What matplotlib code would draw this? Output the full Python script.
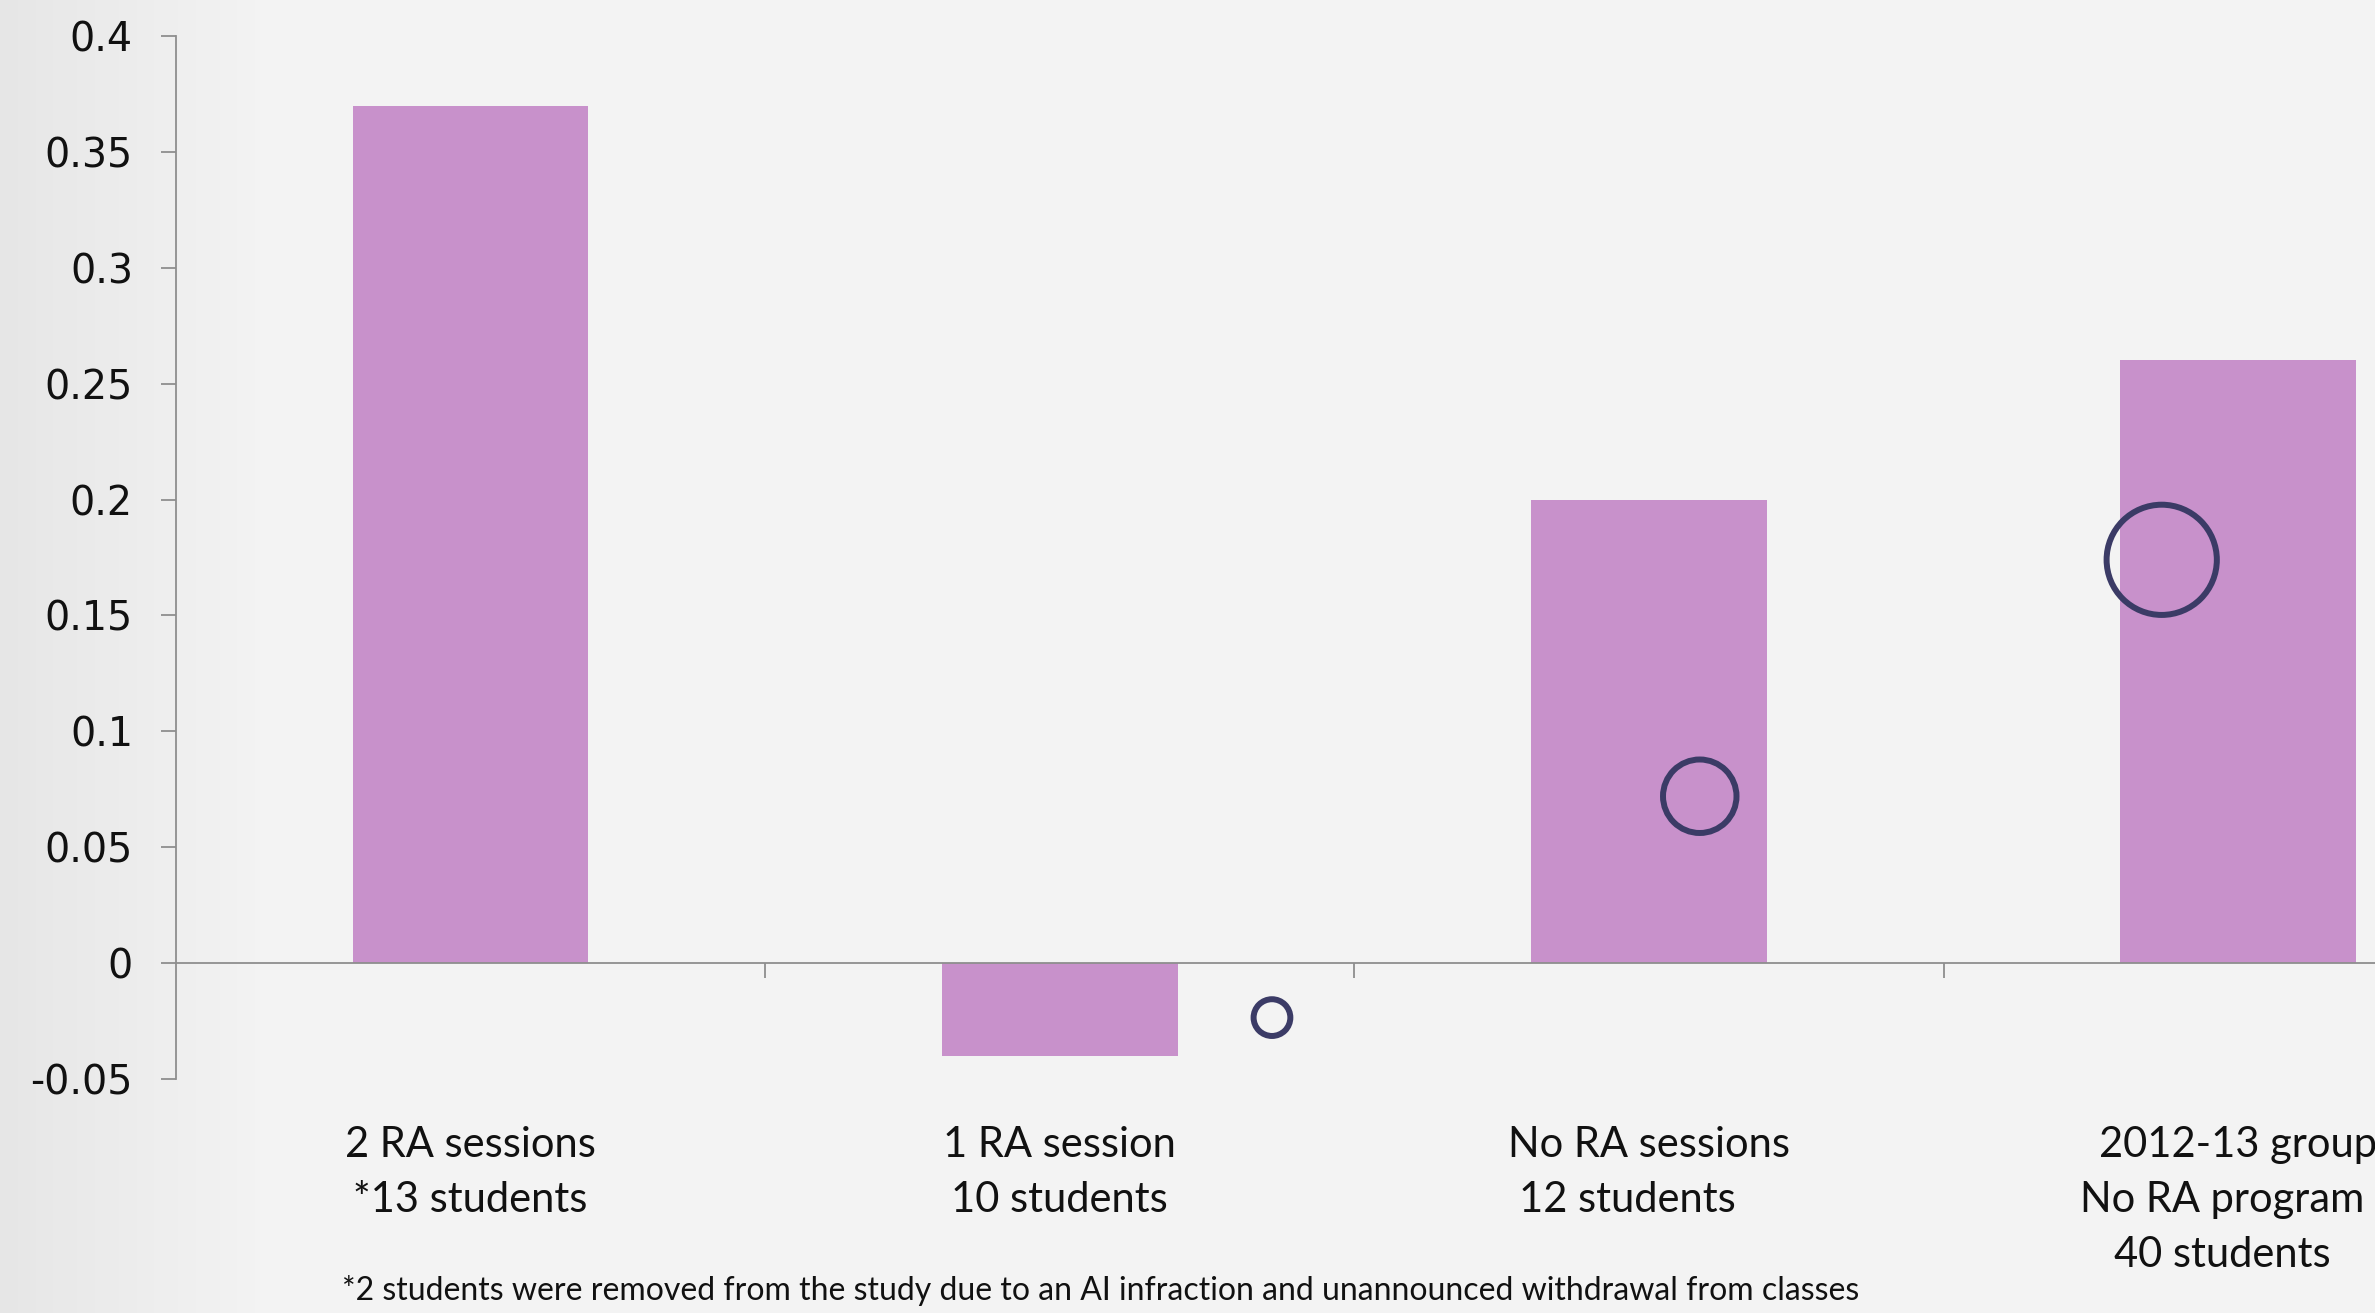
import numpy as np
import matplotlib
matplotlib.use("Agg")
import matplotlib.pyplot as plt
from matplotlib.ticker import FixedLocator

# data
categories = ["2 RA sessions\n*13 students",
              "1 RA session\n10 students",
              "No RA sessions\n12 students    ",
              "2012-13 group\nNo RA program   \n40 students   "]
bar_values = [0.37, -0.04, 0.20, 0.26]
bubble_x = [1.36, 2.086, 2.87]
bubble_y = [-0.0235, 0.072, 0.174]
bubble_values = [1, 4, 9]
y_ticks = [-0.05, 0, 0.05, 0.1, 0.15, 0.2, 0.25, 0.3, 0.35, 0.4]
y_labels = ["-0.05", "0", "0.05", "0.1", "0.15", "0.2", "0.25", "0.3", "0.35", "0.4"]
footnote = ("*2 students were removed from the study due to an AI infraction "
            "and unannounced withdrawal from classes")

bar_color = "#c891cb"
bubble_color = "#3b3b66"
axis_color = "#8e8e8e"
bg = "#f1f1f1"

fig = plt.figure(figsize=(23.75, 13.13), dpi=100, facecolor=bg)

# soft background shading, darker towards the left edge
bg_ax = fig.add_axes([0, 0, 1, 1], zorder=-1)
shade = np.clip(np.linspace(0, 1, 400) / 0.12, 0, 1)
bg_ax.imshow(np.tile(0.90 + 0.055 * shade, (10, 1)), cmap="gray", vmin=0, vmax=1,
             aspect="auto", extent=[0, 1, 0, 1])
bg_ax.axis("off")

ax = fig.add_axes([0.0741, 0.1782, 0.9924, 0.7944])
ax.set_facecolor("none")

x = np.arange(len(categories))
ax.bar(x, bar_values, width=0.4, color=bar_color, zorder=2)
ax.scatter(bubble_x, bubble_y, s=np.array(bubble_values) * 700,
           facecolors="none", edgecolors=bubble_color, linewidths=4.3, zorder=3)

ax.set_xlim(-0.5, len(categories) - 0.5)
ax.set_ylim(-0.05, 0.4)

# axes styling
for s in ["top", "right"]:
    ax.spines[s].set_visible(False)
ax.spines["left"].set_color(axis_color)
ax.spines["left"].set_linewidth(1.3)
ax.spines["bottom"].set_position(("data", 0))
ax.spines["bottom"].set_color(axis_color)
ax.spines["bottom"].set_linewidth(1.3)

ax.set_yticks(y_ticks)
ax.set_yticklabels(y_labels, fontsize=28.5, family="DejaVu Sans", color="#111111")
ax.tick_params(axis="y", length=11, width=1.3, color=axis_color, pad=20)

ax.xaxis.set_major_locator(FixedLocator(x[:-1] + 0.5))
ax.set_xticklabels([])
ax.tick_params(axis="x", length=11, width=1.3, color=axis_color, direction="out")

for xi, lab in zip(x, categories):
    ax.text(xi, -0.045, lab, transform=ax.get_xaxis_transform(), ha="center", va="top",
            fontsize=30, family="Lato", color="#111111", linespacing=1.55)

fig.text(342 / 2375, 1 - 1291 / 1313, footnote, ha="left", va="center",
         fontsize=23, family="Lato", color="#111111")

fig.savefig("out.png", dpi=100, facecolor=bg)
